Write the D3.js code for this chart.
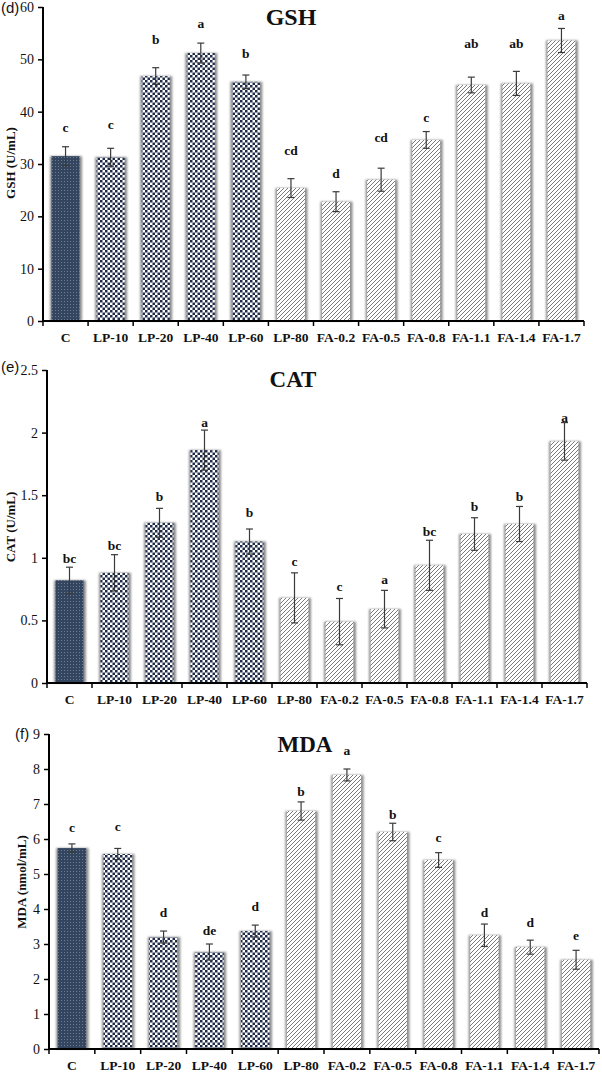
<!DOCTYPE html>
<html><head><meta charset="utf-8">
<script src="https://cdn.jsdelivr.net/npm/d3@7"></script>
<style>body{margin:0;background:#fff}svg{display:block}</style>
</head><body>
<script>
// ---------- DATA ----------
const categories = ["C","LP-10","LP-20","LP-40","LP-60","LP-80","FA-0.2","FA-0.5","FA-0.8","FA-1.1","FA-1.4","FA-1.7"];

const gshValues  = [31.5, 31.3, 46.8, 51.2, 45.7, 25.4, 22.8, 27.0, 34.6, 45.1, 45.4, 53.6];
const gshErrors  = [1.8, 1.7, 1.6, 1.9, 1.3, 1.8, 1.9, 2.2, 1.6, 1.5, 2.3, 2.3];
const gshLetters = ["c","c","b","a","b","cd","d","cd","c","ab","ab","a"];
const gshLetterY = [37.1, 37.5, 53.9, 56.8, 51.2, 32.7, 28.3, 35.2, 39.0, 53.1, 53.1, 58.5];
const gshTicks   = [0, 10, 20, 30, 40, 50, 60];

const catValues  = [0.82, 0.88, 1.28, 1.86, 1.13, 0.68, 0.49, 0.59, 0.94, 1.19, 1.27, 1.93];
const catErrors  = [0.105, 0.145, 0.115, 0.16, 0.1, 0.2, 0.185, 0.15, 0.2, 0.13, 0.14, 0.15];
const catLetters = ["bc","bc","b","a","b","c","c","a","bc","b","b","a"];
const catLetterY = [1.0, 1.10, 1.49, 2.08, 1.36, 0.97, 0.77, 0.83, 1.21, 1.41, 1.49, 2.12];
const catTicks   = [0, 0.5, 1, 1.5, 2, 2.5];

const mdaValues  = [5.74, 5.57, 3.2, 2.77, 3.37, 6.8, 7.83, 6.2, 5.4, 3.25, 2.91, 2.55];
const mdaErrors  = [0.12, 0.16, 0.17, 0.23, 0.17, 0.26, 0.17, 0.25, 0.21, 0.32, 0.2, 0.27];
const mdaLetters = ["c","c","d","de","d","b","a","b","c","d","d","e"];
const mdaLetterY = [6.34, 6.37, 3.91, 3.4, 4.09, 7.37, 8.54, 6.71, 6.06, 3.91, 3.63, 3.26];
const mdaTicks   = [0, 1, 2, 3, 4, 5, 6, 7, 8, 9];

// ---------- DRAW ----------
const W = 602, H = 1073;
const svg = d3.select("body").append("svg").attr("width", W).attr("height", H);
const defs = svg.append("defs");

// solid navy with light dots
const pSolid = defs.append("pattern").attr("id","pSolid").attr("patternUnits","userSpaceOnUse")
  .attr("width",3).attr("height",3);
pSolid.append("rect").attr("width",3).attr("height",3).attr("fill","#34465f");
pSolid.append("rect").attr("x",1).attr("y",1).attr("width",0.8).attr("height",0.8).attr("fill","#8a9ab0");

// checkerboard
const pCheck = defs.append("pattern").attr("id","pCheck").attr("patternUnits","userSpaceOnUse")
  .attr("width",5).attr("height",5);
pCheck.append("rect").attr("width",5).attr("height",5).attr("fill","#ffffff");
pCheck.append("rect").attr("width",2.5).attr("height",2.5).attr("fill","#1f2b48");
pCheck.append("rect").attr("x",2.5).attr("y",2.5).attr("width",2.5).attr("height",2.5).attr("fill","#1f2b48");

// diagonal hatch
const pHatch = defs.append("pattern").attr("id","pHatch").attr("patternUnits","userSpaceOnUse")
  .attr("width",4).attr("height",4);
pHatch.append("rect").attr("width",4).attr("height",4).attr("fill","#ffffff");
pHatch.append("path").attr("d","M-1,5 L5,-1 M-1,1 L1,-1 M3,5 L5,3")
  .attr("stroke","#7a7a7a").attr("stroke-width",1).attr("fill","none");

const blur = defs.append("filter").attr("id","shadow").attr("x","-30%").attr("y","-5%").attr("width","160%").attr("height","110%");
blur.append("feGaussianBlur").attr("stdDeviation",1.3);

function fillFor(cat){
  if (cat === "C") return "url(#pSolid)";
  if (cat.startsWith("LP") && cat !== "LP-80") return "url(#pCheck)";
  return "url(#pHatch)";
}

const serif = "'Liberation Serif','Times New Roman',serif";

function drawPanel(cfg){
  const g = svg.append("g");
  const x = d3.scaleBand().domain(categories).range([cfg.x0, cfg.x1]).paddingInner(0.38).paddingOuter(0.19);
  const xb = d3.scaleBand().domain(categories).range([cfg.x0, cfg.x1]).padding(0);
  const y = d3.scaleLinear().domain([0, d3.max(cfg.ticks)]).range([cfg.yBot, cfg.yTop]);

  const data = categories.map((c,i)=>({c, v:cfg.values[i], e:cfg.errors[i], l:cfg.letters[i], ly:cfg.letterY[i]}));

  // shadows
  g.selectAll("rect.sh").data(data).join("rect").attr("class","sh")
    .attr("x", d=>x(d.c)-1.5).attr("width", x.bandwidth()+4)
    .attr("y", d=>y(d.v)).attr("height", d=>y(0)-y(d.v))
    .attr("fill","#8d8d8d").attr("filter","url(#shadow)");
  // bars
  g.selectAll("rect.bar").data(data).join("rect").attr("class","bar")
    .attr("x", d=>x(d.c)).attr("width", x.bandwidth())
    .attr("y", d=>y(d.v)).attr("height", d=>y(0)-y(d.v))
    .attr("fill", d=>fillFor(d.c));

  // error bars
  const eb = g.selectAll("g.eb").data(data).join("g").attr("class","eb")
    .attr("stroke","#3a3a3a").attr("stroke-width",1.2).attr("fill","none");
  const cx = d => x(d.c) + x.bandwidth()/2;
  eb.append("line").attr("x1",cx).attr("x2",cx).attr("y1",d=>y(d.v+d.e)).attr("y2",d=>y(d.v-d.e));
  eb.append("line").attr("x1",d=>cx(d)-3.5).attr("x2",d=>cx(d)+3.5).attr("y1",d=>y(d.v+d.e)).attr("y2",d=>y(d.v+d.e));
  eb.append("line").attr("x1",d=>cx(d)-3.5).attr("x2",d=>cx(d)+3.5).attr("y1",d=>y(d.v-d.e)).attr("y2",d=>y(d.v-d.e));

  // letters
  g.selectAll("text.lt").data(data).join("text").attr("class","lt")
    .attr("x", cx).attr("y", d=>y(d.ly)).attr("dy","0.35em")
    .attr("text-anchor","middle").attr("font-family",serif).attr("font-weight","bold")
    .attr("font-size",13.5).attr("fill","#111").text(d=>d.l);

  // y axis
  const ya = g.append("g").attr("transform",`translate(${cfg.x0},0)`)
    .call(d3.axisLeft(y).tickValues(cfg.ticks).tickSize(5).tickPadding(4).tickFormat(d3.format("")));
  ya.select(".domain").attr("stroke","#000").attr("stroke-width",2).attr("d",`M0,${cfg.yBot}V${cfg.yTop}`);
  ya.selectAll(".tick line").attr("stroke","#000").attr("stroke-width",1.5);
  ya.selectAll(".tick text").attr("font-family",serif).attr("font-size",14).attr("fill","#111");

  // x axis with ticks at boundaries
  const xa = g.append("g");
  xa.append("line").attr("x1",cfg.x0).attr("x2",cfg.x1).attr("y1",cfg.yBot).attr("y2",cfg.yBot)
    .attr("stroke","#000").attr("stroke-width",2);
  const bounds = categories.map(c=>xb(c)).concat([cfg.x1]);
  xa.selectAll("line.tk").data(bounds).join("line").attr("class","tk")
    .attr("x1",d=>d).attr("x2",d=>d).attr("y1",cfg.yBot).attr("y2",cfg.yBot+5)
    .attr("stroke","#000").attr("stroke-width",1.5);
  xa.selectAll("text").data(categories).join("text")
    .attr("x", c=>xb(c)+xb.bandwidth()/2).attr("y", cfg.yBot+21)
    .attr("text-anchor","middle").attr("font-family",serif).attr("font-weight","bold")
    .attr("font-size",13.5).attr("fill","#111").text(c=>c);

  // y label
  g.append("text").attr("transform",`translate(${cfg.ylx},${cfg.yly}) rotate(-90)`)
    .attr("text-anchor","middle").attr("dy","0.35em").attr("font-family",serif).attr("font-weight","bold")
    .attr("font-size",13).attr("fill","#111").text(cfg.ylabel);

  // title
  g.append("text").attr("x",cfg.tx).attr("y",cfg.ty).attr("text-anchor","middle")
    .attr("font-family",serif).attr("font-weight","bold").attr("font-size",cfg.tsize).attr("fill","#111").text(cfg.title);

  // panel tag
  g.append("text").attr("x",cfg.px).attr("y",cfg.py)
    .attr("font-family","'Liberation Sans',Arial,sans-serif").attr("font-size",15).attr("fill","#111").text(cfg.tag);
}

drawPanel({values:gshValues, errors:gshErrors, letters:gshLetters, letterY:gshLetterY, ticks:gshTicks,
  x0:43, x1:584, yTop:7, yBot:321, ylabel:"GSH (U/mL)", ylx:10, yly:163,
  title:"GSH", tx:291, ty:25, tsize:24, tag:"(d)", px:1, py:13});

drawPanel({values:catValues, errors:catErrors, letters:catLetters, letterY:catLetterY, ticks:catTicks,
  x0:47, x1:587, yTop:370, yBot:683, ylabel:"CAT (U/mL)", ylx:10, yly:527,
  title:"CAT", tx:293, ty:387, tsize:23, tag:"(e)", px:1, py:372});

drawPanel({values:mdaValues, errors:mdaErrors, letters:mdaLetters, letterY:mdaLetterY, ticks:mdaTicks,
  x0:49, x1:599, yTop:734, yBot:1049, ylabel:"MDA (nmol/mL)", ylx:21, yly:882,
  title:"MDA", tx:305, ty:752, tsize:23, tag:"(f)", px:15, py:739});
</script>
</body></html>
